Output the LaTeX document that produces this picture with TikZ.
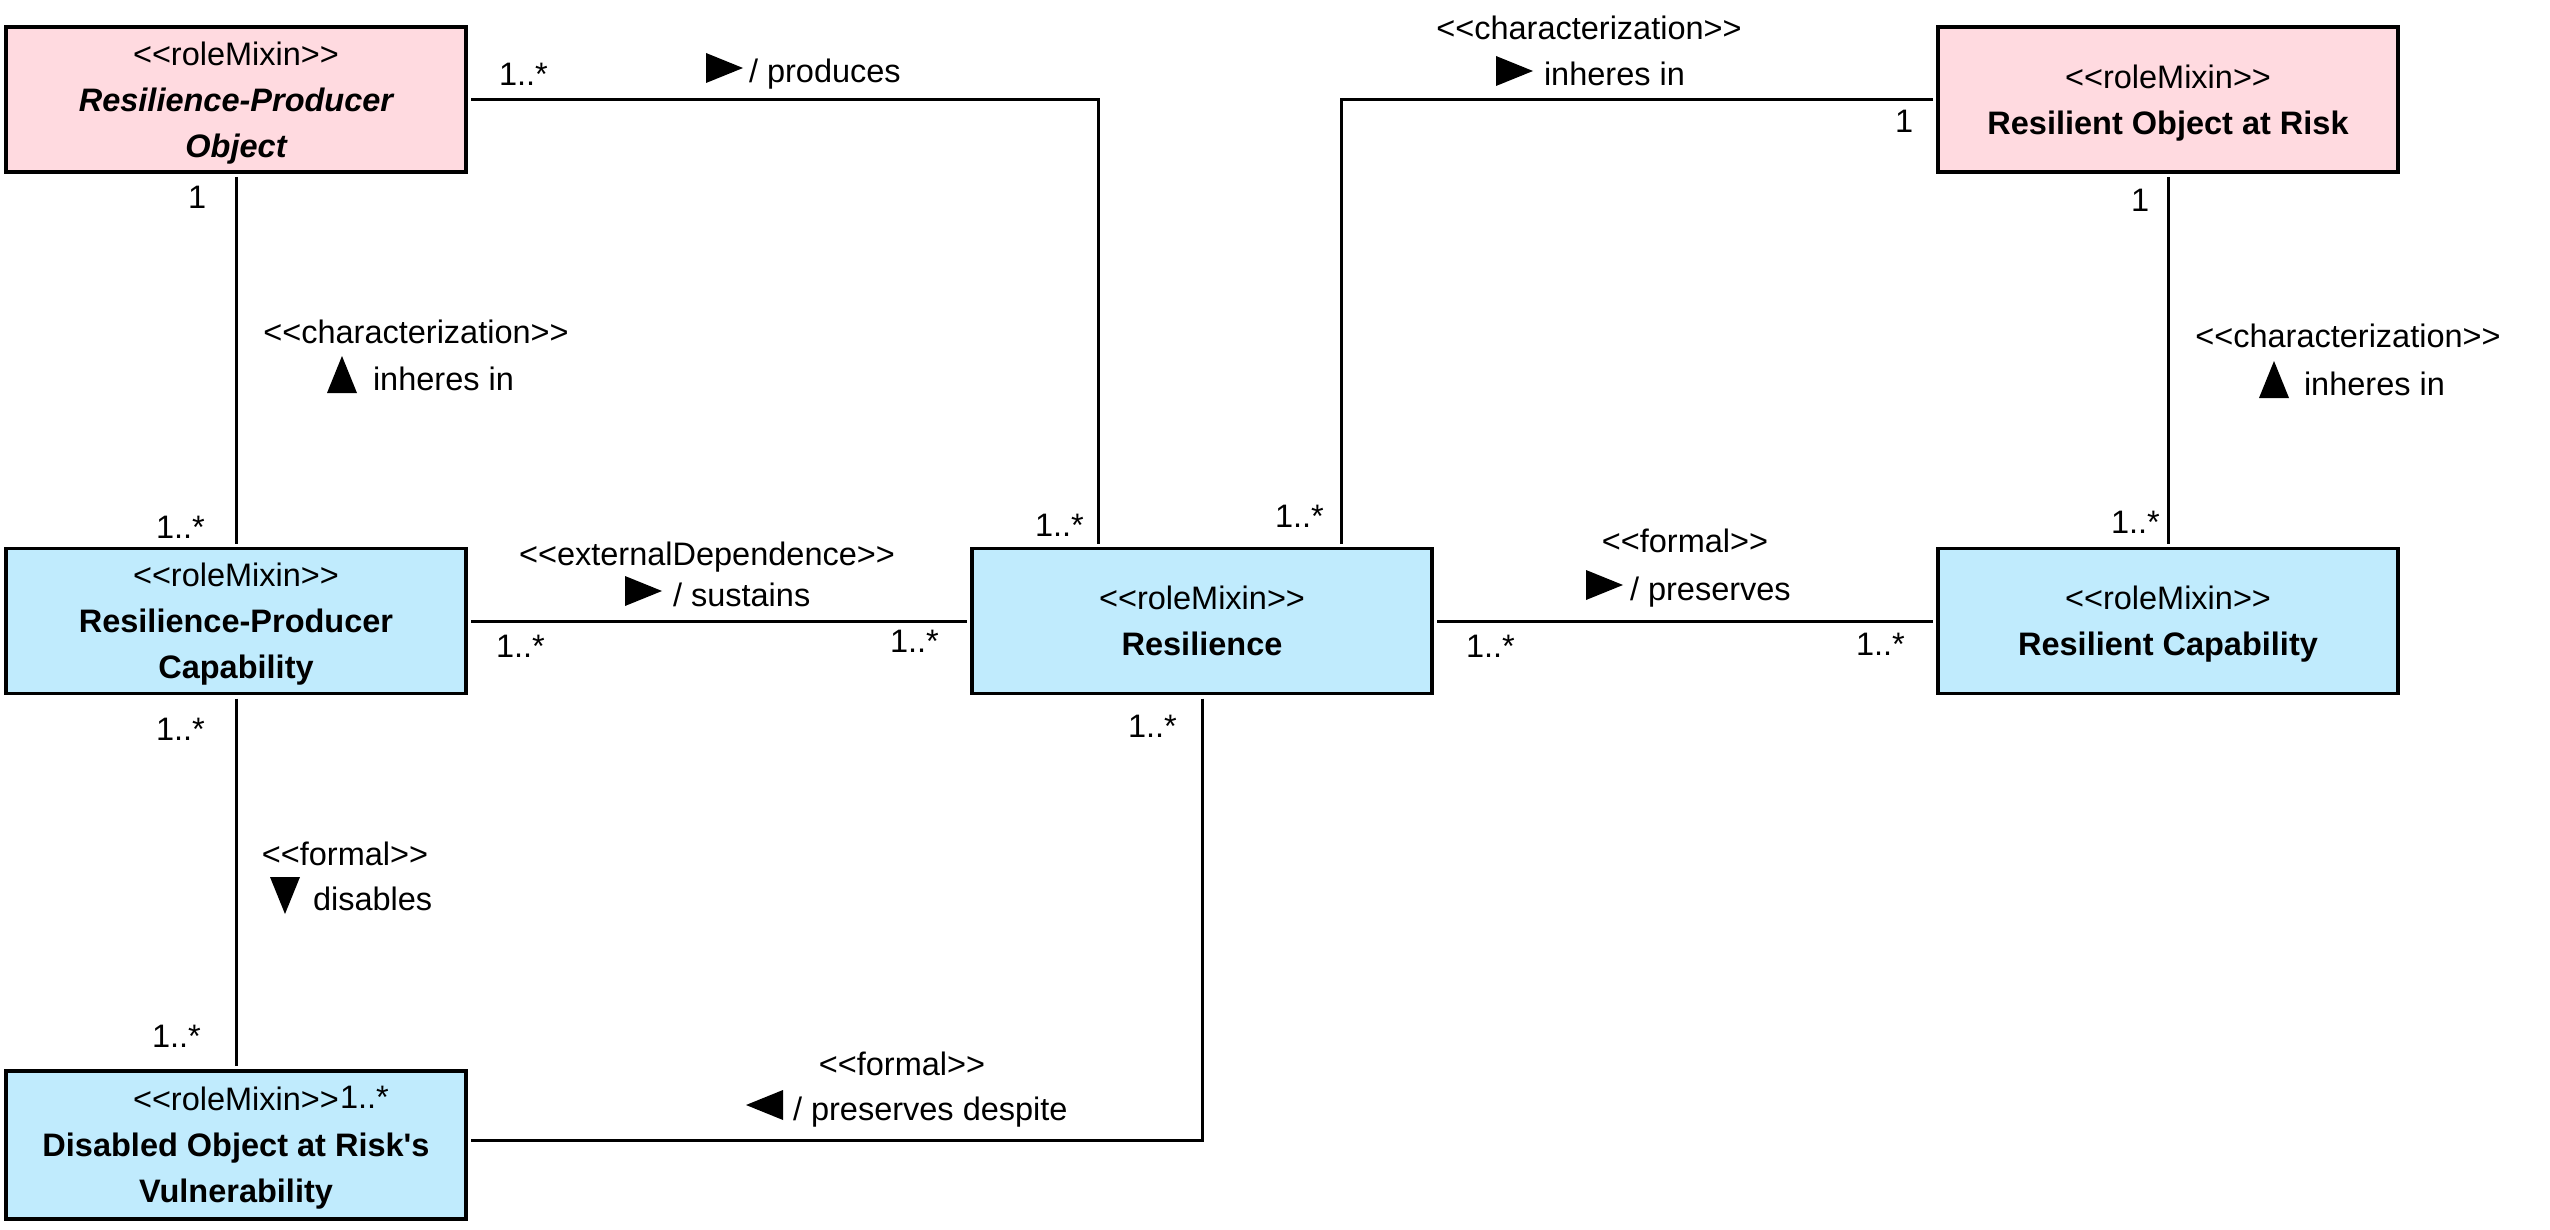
\documentclass[tikz,border=0pt]{standalone}
\usepackage{fontspec}
\newfontfamily\umlfont{Liberation Sans}
\definecolor{rmpink}{RGB}{255,218,224}
\definecolor{rmblue}{RGB}{192,235,253}
\begin{document}
\begin{tikzpicture}[x=1pt,y=-1pt,
  every node/.style={font=\umlfont\fontsize{32.5}{46}\selectfont, inner sep=0pt, outer sep=0pt},
  cls/.style={draw=black, line width=3.5pt, minimum width=460pt, minimum height=145pt, align=center, text depth=0pt},
  pinkcls/.style={cls, fill=rmpink},
  bluecls/.style={cls, fill=rmblue},
  assoc/.style={line width=3pt, shorten <=5pt, shorten >=5pt},
  mult/.style={anchor=base west},
  stereo/.style={anchor=base},
  verb/.style={anchor=base west},
  tri/.style={fill=black}]
\useasboundingbox[fill=white] (0,0) rectangle (2550,1230);

% classes
\node[pinkcls] (rpo) at (236,99.5) {<<roleMixin>>\\{\bfseries\itshape Resilience-Producer}\\{\bfseries\itshape Object}};
\node[pinkcls] (ror) at (2168,99.5) {<<roleMixin>>\\\textbf{Resilient Object at Risk}};
\node[bluecls] (rpc) at (236,621) {<<roleMixin>>\\\textbf{Resilience-Producer}\\\textbf{Capability}};
\node[bluecls] (res) at (1202,621) {<<roleMixin>>\\\textbf{Resilience}};
\node[bluecls] (rc) at (2168,621) {<<roleMixin>>\\\textbf{Resilient Capability}};
\node[bluecls, minimum height=148pt] (dov) at (236,1145) {<<roleMixin>>\\\textbf{Disabled Object at Risk's}\\\textbf{Vulnerability}};

% connectors
\draw[assoc] (rpo.east) -| ([xshift=-104pt]res.north);
\draw[assoc] (ror.west) -| ([xshift=139pt]res.north);
\draw[assoc] (rpo.south) -- (rpc.north);
\draw[assoc] (ror.south) -- (rc.north);
\draw[assoc] (rpc.east) -- (res.west);
\draw[assoc] (res.east) -- (rc.west);
\draw[assoc] (rpc.south) -- (dov.north);
\draw[assoc] (res.south) |- ([yshift=5pt]dov.east);

% produces
\node[mult] (m1) at (499,86) {1..*};
\node[verb] (v1) at (749,83) {/ produces};
\fill[tri] (706,53) -- (743,68) -- (706,83) -- cycle;
\node[mult] (m2) at (1035,536) {1..*};

% inheres in (top)
\node[stereo] (s2) at (1589,40) {<<characterization>>};
\node[verb] (v2) at (1544,86) {inheres in};
\fill[tri] (1496,56) -- (1533,71) -- (1496,86) -- cycle;
\node[mult] (m3) at (1895,133) {1};
\node[mult] (m4) at (1275,527) {1..*};

% inheres in (left)
\node[mult] (m5) at (188,209) {1};
\node[stereo] (s3) at (416,344) {<<characterization>>};
\node[verb] (v3) at (373,390) {inheres in};
\fill[tri] (327,393) -- (342,356) -- (357,393) -- cycle;
\node[mult] (m6) at (156,538) {1..*};

% inheres in (right)
\node[mult] (m7) at (2131,212) {1};
\node[stereo] (s4) at (2348,348) {<<characterization>>};
\node[verb] (v4) at (2304,395) {inheres in};
\fill[tri] (2259,398) -- (2274,361) -- (2289,398) -- cycle;
\node[mult] (m8) at (2111,533) {1..*};

% sustains
\node[stereo] (s5) at (707,565) {<<externalDependence>>};
\node[verb] (v5) at (673,606) {/ sustains};
\fill[tri] (625,576) -- (662,591) -- (625,606) -- cycle;
\node[mult] (m9) at (496,657) {1..*};
\node[mult] (m10) at (890,652) {1..*};

% preserves
\node[stereo] (s6) at (1685,552) {<<formal>>};
\node[verb] (v6) at (1630,600) {/ preserves};
\fill[tri] (1586,570) -- (1623,585) -- (1586,600) -- cycle;
\node[mult] (m11) at (1466,657) {1..*};
\node[mult] (m12) at (1856,655) {1..*};

% disables
\node[mult] (m13) at (156,740) {1..*};
\node[stereo] (s7) at (345,865) {<<formal>>};
\node[verb] (v7) at (313,910) {disables};
\fill[tri] (270,877) -- (300,877) -- (285,914) -- cycle;
\node[mult] (m14) at (152,1047) {1..*};

% preserves despite
\node[mult] (m15) at (1128,737) {1..*};
\node[stereo] (s8) at (902,1075) {<<formal>>};
\node[verb] (v8) at (793,1120) {/ preserves despite};
\fill[tri] (783,1090) -- (746,1105) -- (783,1120) -- cycle;
\node[mult] (m16) at (340,1108) {1..*};
\end{tikzpicture}
\end{document}
